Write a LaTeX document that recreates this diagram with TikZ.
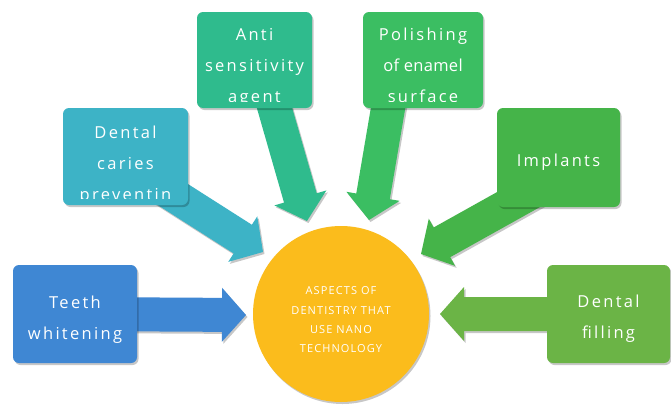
\documentclass[tikz,border=0pt]{standalone}
\usepackage{fontspec}
\setmainfont{Open Sans}
\newfontfamily\boxfont[LetterSpace=14]{Open Sans}
\newfontfamily\circfont[LetterSpace=10]{Open Sans}
\usetikzlibrary{calc,shadows}
\definecolor{cTeeth}{HTML}{3F87D3}
\definecolor{cCaries}{HTML}{3DB3C6}
\definecolor{cAnti}{HTML}{2FBB8D}
\definecolor{cPolish}{HTML}{3BBE62}
\definecolor{cImpl}{HTML}{45B449}
\definecolor{cFill}{HTML}{6BB446}
\definecolor{cOrange}{HTML}{FBBC1C}
\newcommand{\blkarrow}[3]{%
  \path let \p1=(#1), \p2=(#2) in \pgfextra{%
    \pgfmathsetmacro\arrang{atan2(\y2-\y1,\x2-\x1)}%
    \pgfmathsetmacro\arrlen{veclen(\x2-\x1,\y2-\y1)}%
    \xdef\arrang{\arrang}\xdef\arrlen{\arrlen}};
  \begin{scope}[shift={(#1)}, rotate=\arrang]
    \fill[#3, softshadow] (0pt,-17pt) -- (\arrlen pt-24pt,-17pt) -- (\arrlen pt-24pt,-27pt)
      -- (\arrlen pt,0pt) -- (\arrlen pt-24pt,27pt) -- (\arrlen pt-24pt,17pt) -- (0pt,17pt) -- cycle;
  \end{scope}}
% text area of a box: the box without a bottom margin of 7pt
\newcommand{\clipbox}[1]{\clip (#1.north west) rectangle ($(#1.south east)+(0,-7)$);}
\begin{document}
\begin{tikzpicture}[x=1pt,y=-1pt,
  softshadow/.style={drop shadow={shadow xshift=1.5pt, shadow yshift=-2pt, opacity=0.22, fill=black}},
  box/.style={rounded corners=6pt, inner sep=0pt, softshadow},
  btext/.style={text=white, font=\boxfont\fontsize{16.5}{31}\selectfont, align=center, inner sep=0pt},
  ctext/.style={text=white, font=\circfont\fontsize{11}{19.3}\selectfont, align=center, inner sep=0pt}]
\useasboundingbox (0,0) rectangle (671,407);
\fill[white] (0,0) rectangle (671,407);

% arrow start and tip coordinates
\coordinate (s2) at (150,180);  \coordinate (t2) at (263,252);
\coordinate (s3) at (255,40);   \coordinate (t3) at (307,221);
\coordinate (s4) at (401,32);   \coordinate (t4) at (369,220);
\coordinate (s5) at (541,187);  \coordinate (t5) at (421,254);
\coordinate (t1) at (246,315);
\coordinate (t6) at (440,314);

% box centres
\path (75,314) coordinate (c1) (125.5,156.5) coordinate (c2) (254.5,60) coordinate (c3)
      (423,60) coordinate (c4) (558.5,157.5) coordinate (c5) (608.5,314) coordinate (c6);

\blkarrow{c1}{t1}{cTeeth}
\blkarrow{s2}{t2}{cCaries}
\blkarrow{s3}{t3}{cAnti}
\blkarrow{s4}{t4}{cPolish}
\blkarrow{s5}{t5}{cImpl}
\blkarrow{c6}{t6}{cFill}

\node[box, fill=cTeeth, minimum width=124pt, minimum height=98pt] (tw) at (c1) {};
\node[box, fill=cCaries, minimum width=125pt, minimum height=97pt] (dc) at (c2) {};
\node[box, fill=cAnti, minimum width=115pt, minimum height=96pt] (as) at (c3) {};
\node[box, fill=cPolish, minimum width=120pt, minimum height=96pt] (pe) at (c4) {};
\node[box, fill=cImpl, minimum width=123pt, minimum height=99pt] (im) at (c5) {};
\node[box, fill=cFill, minimum width=123pt, minimum height=98pt] (df) at (c6) {};

\node[btext] (twt) at ($(tw.center)+(0,6)$) {Teeth\\whitening};
\begin{scope}\clipbox{dc}
\node[btext, anchor=north] (dct) at ($(dc.north)+(0,18)$) {Dental\\caries\\preventin};
\end{scope}
\begin{scope}\clipbox{as}
\node[btext, anchor=north] (ast) at ($(as.north)+(0,16)$) {Anti\\sensitivity\\agent};
\end{scope}
\begin{scope}\clipbox{pe}
\node[btext, anchor=north] (pet) at ($(pe.north)+(0,16)$) {Polishing\\{\addfontfeature{LetterSpace=2}of enamel}\\surface};
\end{scope}
\node[btext] (imt) at ($(im.center)+(0,5)$) {Implants};
\node[btext] (dft) at ($(df.center)+(0,5)$) {Dental\\filling};

\node[circle, fill=cOrange, minimum size=176pt, inner sep=0pt, softshadow] (c) at (341,314) {};
\node[ctext] (ct) at ($(c.center)+(0,6)$) {ASPECTS OF\\DENTISTRY THAT\\USE NANO\\TECHNOLOGY};
\end{tikzpicture}
\end{document}
